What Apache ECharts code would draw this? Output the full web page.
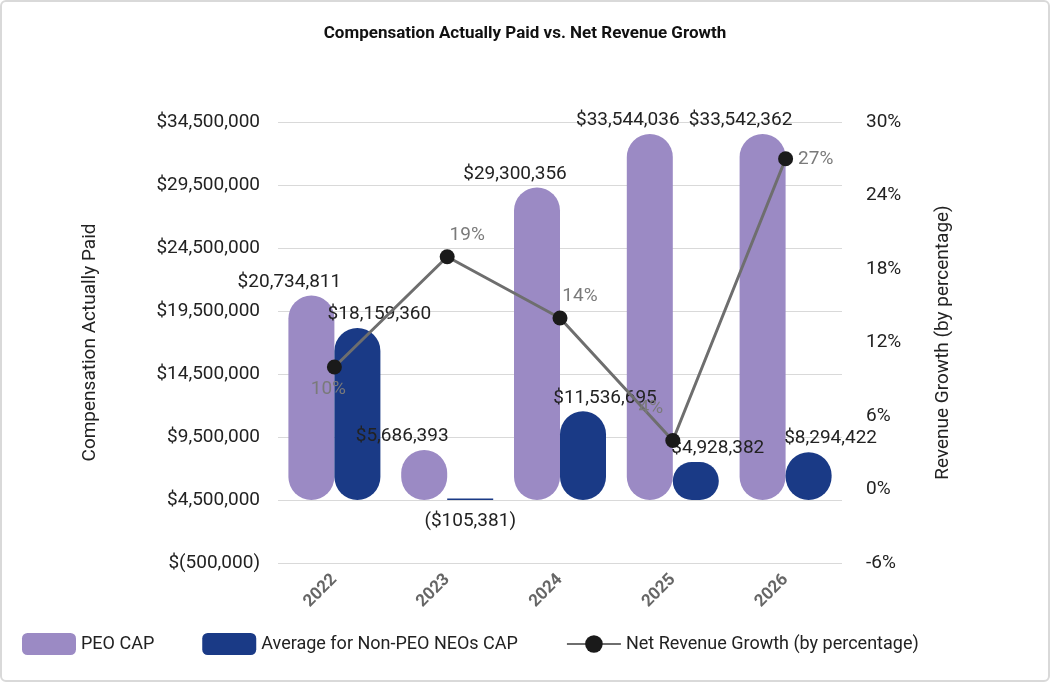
<!DOCTYPE html>
<html lang="en">
<head>
<meta charset="UTF-8">
<title>Compensation Actually Paid vs. Net Revenue Growth</title>
<script src="https://cdn.jsdelivr.net/npm/echarts@6/dist/echarts.min.js"></script>
<style>
  html, body { margin: 0; padding: 0; background: #fff; }
  #main { width: 1046px; height: 678px; border: 2px solid #d9d9d9; border-radius: 6px; }
</style>
</head>
<body>
<div id="main"></div>
<script type="text/javascript">
var years = ['2022', '2023', '2024', '2025', '2026'];
var peoCap = [20734811, 5686393, 29300356, 33544036, 33542362];
var neoCap = [18159360, -105381, 11536695, 4928382, 8294422];
var revenueGrowth = [10, 19, 14, 4, 27];
// bars in the original sit on the $4,500,000 gridline
var barBase = 4500000;

function money(v) {
    var s = '$' + Math.abs(v).toLocaleString('en-US');
    return v < 0 ? '(' + s + ')' : s;
}
function axisMoney(v) {
    var s = Math.abs(v).toLocaleString('en-US');
    return v < 0 ? '$(' + s + ')' : '$' + s;
}

var baseData = years.map(function () { return barBase; });
var peoHeights = peoCap.map(function (v) { return Math.max(v - barBase, 0); });
var neoHeights = neoCap.map(function (v) { return v > barBase ? v - barBase : '-'; });
// values below the base show as a thin line only
var neoLow = neoCap.map(function (v) { return v > barBase ? '-' : 120000; });

var labelFont = { fontSize: 19, color: '#222', fontFamily: 'Roboto' };
var growthLabelPos = [
    { position: 'bottom', offset: [-6, 0] },
    { position: 'top', offset: [20, 0] },
    { position: 'top', offset: [20, 0] },
    { position: 'top', offset: [-22, -10] },
    { position: 'right', offset: [0, 0] }
];

var myChart = echarts.init(document.getElementById('main'));
myChart.setOption({
    title: {
        text: 'Compensation Actually Paid vs. Net Revenue Growth',
        left: 'center', top: 18,
        textStyle: { fontSize: 17, fontWeight: 'bold', color: '#111', fontFamily: 'Roboto' }
    },
    grid: { left: 276, right: 206, top: 120, bottom: 117 },
    legend: {
        bottom: 20, left: 15,
        itemGap: 48,
        itemWidth: 54, itemHeight: 22,
        textStyle: { fontSize: 18, color: '#222', fontFamily: 'Roboto' },
        data: [
            { name: 'PEO CAP', icon: 'roundRect' },
            { name: 'Average for Non-PEO NEOs CAP', icon: 'roundRect' },
            { name: 'Net Revenue Growth (by percentage)' }
        ]
    },
    xAxis: {
        type: 'category',
        data: years,
        axisLine: { show: false },
        axisTick: { show: false },
        axisLabel: { rotate: 45, fontSize: 17, fontWeight: 'bold', color: '#666', margin: 14, fontFamily: 'Roboto' }
    },
    yAxis: [{
        type: 'value',
        min: -500000, max: 34500000, interval: 5000000,
        name: 'Compensation Actually Paid',
        nameLocation: 'middle', nameGap: 178, nameRotate: 90,
        nameTextStyle: { fontSize: 19, color: '#222', fontFamily: 'Roboto' },
        axisLabel: { formatter: axisMoney, fontSize: 19, color: '#222', fontFamily: 'Roboto', margin: 18 },
        splitLine: { lineStyle: { color: '#d9d9d9' } }
    }, {
        type: 'value',
        min: -6, max: 30, interval: 6,
        name: 'Revenue Growth (by percentage)',
        nameLocation: 'middle', nameGap: 92, nameRotate: 90,
        nameTextStyle: { fontSize: 19, color: '#222', fontFamily: 'Roboto' },
        axisLabel: { formatter: '{value}%', fontSize: 19, color: '#222', fontFamily: 'Roboto', margin: 24 },
        splitLine: { show: false }
    }],
    series: [{
        type: 'bar', stack: 'peo', barWidth: 46, barGap: '0%',
        data: baseData, itemStyle: { color: 'transparent' },
        silent: true
    }, {
        name: 'PEO CAP', type: 'bar', stack: 'peo', barWidth: 46, barMinHeight: 50,
        data: peoHeights,
        itemStyle: { color: '#9b8ac4', borderRadius: 23 },
        label: {
            show: true, position: 'top', distance: 4, offset: [-22, 0],
            formatter: function (p) { return money(peoCap[p.dataIndex]); },
            textStyle: labelFont
        }
    }, {
        type: 'bar', stack: 'neo', barWidth: 46,
        data: baseData, itemStyle: { color: 'transparent' },
        silent: true
    }, {
        name: 'Average for Non-PEO NEOs CAP', type: 'bar', stack: 'neo', barWidth: 46, barMinHeight: 38,
        data: neoHeights,
        itemStyle: { color: '#1a3a86', borderRadius: 23 },
        label: {
            show: true, position: 'top', distance: 4, offset: [22, 0],
            formatter: function (p) { return money(neoCap[p.dataIndex]); },
            textStyle: labelFont
        }
    }, {
        type: 'bar', stack: 'neo', barWidth: 46,
        data: neoLow,
        itemStyle: { color: '#1a3a86' },
        label: {
            show: true, position: 'bottom', distance: 12,
            formatter: function (p) { return money(neoCap[p.dataIndex]); },
            textStyle: labelFont
        }
    }, {
        name: 'Net Revenue Growth (by percentage)', type: 'line', yAxisIndex: 1,
        data: revenueGrowth.map(function (v, i) {
            return { value: v, label: growthLabelPos[i] };
        }),
        symbol: 'circle', symbolSize: 15,
        itemStyle: { color: '#1a1a1a' },
        lineStyle: { color: '#6e6e6e', width: 3 },
        z: 10,
        label: {
            show: true, formatter: '{c}%',
            fontSize: 19, color: '#7a7a7a', fontFamily: 'Roboto'
        }
    }]
});
</script>
</body>
</html>
